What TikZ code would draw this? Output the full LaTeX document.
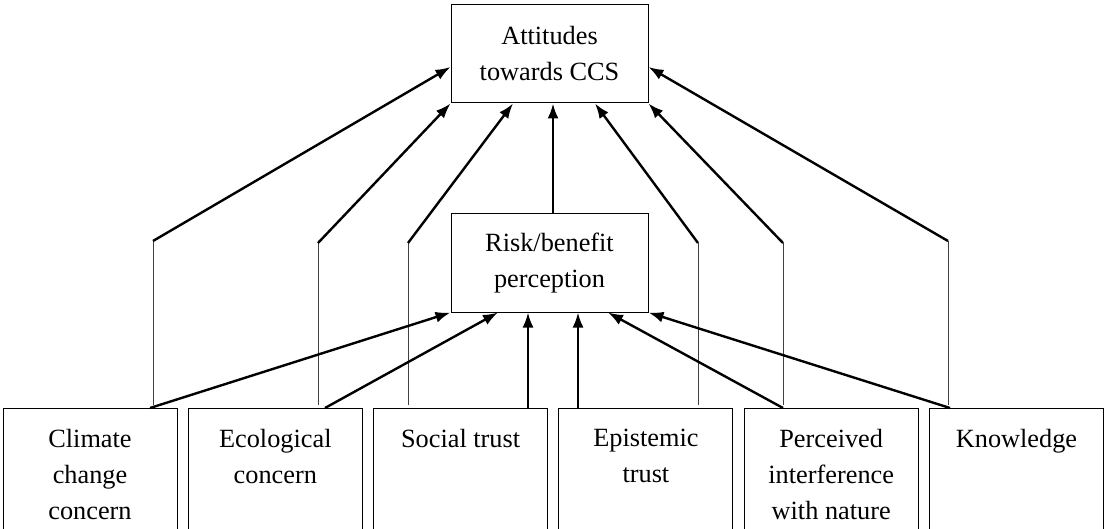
\documentclass[tikz,border=0pt]{standalone}
\usepackage{fontspec}
\setmainfont{Liberation Serif}
\usetikzlibrary{arrows.meta,positioning}

\newcommand{\boxfont}{\fontsize{26.3}{36}\selectfont}

\tikzset{
    box/.style={draw, line width=1pt, minimum width=197pt, minimum height=98pt,
        align=center, font=\boxfont},
    factor/.style={draw, line width=1pt, minimum width=174pt, minimum height=174pt,
        anchor=north, inner sep=0pt},
    factortext/.style={align=center, font=\boxfont, inner sep=0pt},
    link/.style={line width=2.4pt, -{Latex[length=15pt,width=11pt]}},
    leg/.style={line width=0.9pt, black!75},
}

\begin{document}
\begin{tikzpicture}[x=1pt, y=-1pt]
    \useasboundingbox (0,0) rectangle (1107,529);
    \clip (0,0) rectangle (1107,529);

    % Outcome and mediator
    \node[box] (att) at (549.5,54) {Attitudes\\towards CCS};
    \node[box, below=110pt of att] (rb) {Risk/benefit\\perception};

    % Predictors (boxes run off the bottom edge)
    \node[factor] (cc) at (90,408) {};
    \node[factor, right=10.3pt of cc] (ec) {};
    \node[factor, right=10.3pt of ec] (st) {};
    \node[factor, right=10.3pt of st] (et) {};
    \node[factor, right=10.3pt of et] (pn) {};
    \node[factor, right=10.3pt of pn] (kn) {};

    \node[factortext, below=21pt of cc.north] (cc-t) {Climate\\change\\concern};
    \node[factortext, below=21pt of ec.north] (ec-t) {Ecological\\concern};
    \node[factortext, below=21pt of st.north] (st-t) {Social trust};
    \node[factortext, below=21pt of et.north] (et-t) {Epistemic\\trust};
    \node[factortext, below=21pt of pn.north] (pn-t) {Perceived\\interference\\with nature};
    \node[factortext, below=21pt of kn.north] (kn-t) {Knowledge};

    % Feet and bends of the direct paths
    \coordinate (cc-f) at (153,405);  \coordinate (cc-b) at (153,241);
    \coordinate (ec-f) at (318,405);  \coordinate (ec-b) at (318,243);
    \coordinate (st-f) at (408,405);  \coordinate (st-b) at (408,243);
    \coordinate (et-f) at (698,405);  \coordinate (et-b) at (698,243);
    \coordinate (pn-f) at (783,405);  \coordinate (pn-b) at (783,243);
    \coordinate (kn-f) at (948,405);  \coordinate (kn-b) at (948,241);

    % Direct paths to attitudes
    \draw[leg] (cc-f) -- (cc-b);
    \draw[leg] (ec-f) -- (ec-b);
    \draw[leg] (st-f) -- (st-b);
    \draw[leg] (et-f) -- (et-b);
    \draw[leg] (pn-f) -- (pn-b);
    \draw[leg] (kn-f) -- (kn-b);
    \draw[link] (cc-b) -- ([yshift=-13pt]att.west);
    \draw[link] (ec-b) -- (att.south west);
    \draw[link] (st-b) -- ([xshift=-36.5pt]att.south);
    \draw[link] (et-b) -- ([xshift=45.5pt]att.south);
    \draw[link] (pn-b) -- (att.south east);
    \draw[link] (kn-b) -- ([yshift=-13pt]att.east);

    % Mediator to attitudes
    \draw[link] ([xshift=3.5pt]rb.north) -- ([xshift=3.5pt]att.south);

    % Paths to risk/benefit perception
    \draw[link] ([xshift=60pt]cc.north) -- (rb.south west);
    \draw[link] ([xshift=49.7pt]ec.north) -- ([xshift=-51.5pt]rb.south);
    \draw[link] ([xshift=67.4pt]st.north) -- ([xshift=-21.5pt]rb.south);
    \draw[link] ([xshift=-67.9pt]et.north) -- ([xshift=28.5pt]rb.south);
    \draw[link] ([xshift=-48.2pt]pn.north) -- ([xshift=58.5pt]rb.south);
    \draw[link] ([xshift=-66.5pt]kn.north) -- (rb.south east);
\end{tikzpicture}
\end{document}
